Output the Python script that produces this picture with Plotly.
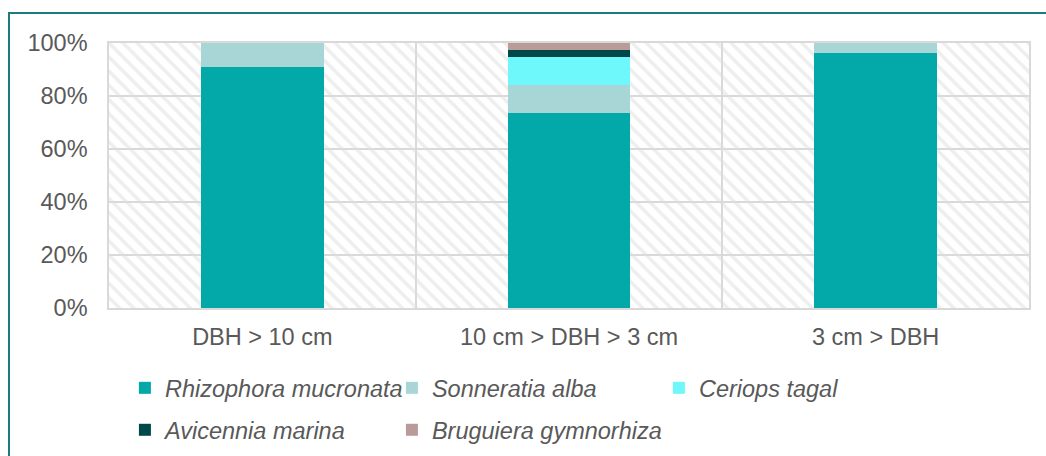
import plotly.graph_objects as go

categories = ["DBH > 10 cm", "10 cm > DBH > 3 cm", "3 cm > DBH"]
species = ["Rhizophora mucronata", "Sonneratia alba", "Ceriops tagal",
           "Avicennia marina", "Bruguiera gymnorhiza"]
rhizophora = [91.0, 73.7, 96.3]
sonneratia = [9.0, 10.5, 3.7]
ceriops = [0.0, 10.5, 0.0]
avicennia = [0.0, 2.7, 0.0]
bruguiera = [0.0, 2.6, 0.0]
colors = ["#03A9A9", "#A8D5D6", "#6EF8FC", "#00474A", "#B99B9A"]
y_ticks = [0, 20, 40, 60, 80, 100]
y_tick_labels = ["0%", "20%", "40%", "60%", "80%", "100%"]

series = [rhizophora, sonneratia, ceriops, avicennia, bruguiera]
legend_ids = ["legend", "legend", "legend", "legend2", "legend3"]
FONT = "Liberation Sans, Arial, sans-serif"
TXT = "#595959"
GRID = "#D9D9D9"

fig = go.Figure()

# hatched plot background
fig.add_trace(go.Bar(
    x=categories, y=[100] * len(categories), base=[0] * len(categories),
    width=1, showlegend=False, hoverinfo="skip",
    marker=dict(color="rgba(0,0,0,0)", line=dict(width=0),
                pattern=dict(shape="\\", fgcolor="#DEDEDE", bgcolor="rgba(0,0,0,0)",
                             size=10, solidity=0.35)),
))

base = [0.0] * len(categories)
for i, (name, vals) in enumerate(zip(species, series)):
    fig.add_trace(go.Bar(
        x=categories, y=vals, base=list(base), name=name, width=0.4,
        marker=dict(color=colors[i], line=dict(width=0)),
        legend=legend_ids[i],
    ))
    base = [b + v for b, v in zip(base, vals)]

col_pitch = 267 / 920  # legend column pitch in plot-width fractions
x0 = 0.0173

legend_common = dict(
    orientation="h", xanchor="left", yanchor="middle", yref="container",
    font=dict(family=FONT, size=23.5, color=TXT, style="italic"),
    bgcolor="rgba(0,0,0,0)", traceorder="normal",
)

fig.update_layout(
    width=1046, height=456,
    margin=dict(l=109, r=17, t=43, b=148),
    paper_bgcolor="white", plot_bgcolor="white",
    barmode="overlay", bargap=0,
    font=dict(family=FONT, size=23.5, color=TXT),
    legend=dict(x=x0, y=0.149, entrywidth=222, entrywidthmode="pixels", **legend_common),
    legend2=dict(x=x0, y=0.057, **legend_common),
    legend3=dict(x=x0 + col_pitch, y=0.057, **legend_common),
    xaxis=dict(tickson="boundaries", showgrid=True, gridcolor=GRID, gridwidth=1.5,
               showline=True, linecolor=GRID, linewidth=1.5, mirror=True,
               ticks="", ticklabelstandoff=7,
               tickfont=dict(family=FONT, size=23.5, color=TXT)),
    yaxis=dict(range=[0, 100], tickvals=y_ticks, ticktext=y_tick_labels,
               showgrid=True, gridcolor=GRID, gridwidth=1.5, zeroline=False,
               showline=True, linecolor=GRID, linewidth=1.5, mirror=True,
               ticks="", ticklabelstandoff=15,
               tickfont=dict(family=FONT, size=23.5, color=TXT)),
    shapes=[dict(type="rect", xref="paper", yref="paper",
                 x0=-0.1087, x1=1.3, y0=-1.0, y1=1.1132,
                 line=dict(color="#1E7B7B", width=2), fillcolor="rgba(0,0,0,0)")],
)

fig.write_html("out.html", config={"displayModeBar": False},
               post_script="document.body.style.margin='0px';")
